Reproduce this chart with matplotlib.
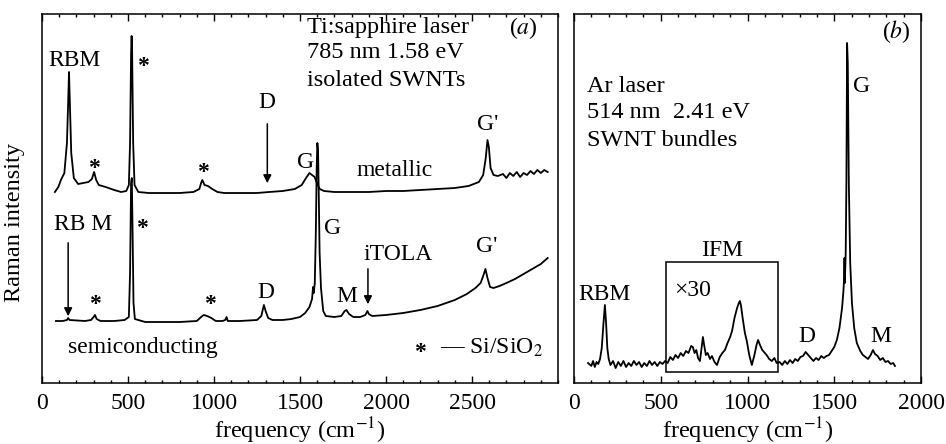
import numpy as np
import matplotlib
matplotlib.use('Agg')
import matplotlib.pyplot as plt
from matplotlib.patches import Rectangle
from matplotlib.ticker import MultipleLocator, FixedLocator, NullLocator

plt.rcParams['font.family'] = ['Liberation Serif', 'DejaVu Serif']
plt.rcParams['mathtext.fontset'] = 'stix'

# ---- panel (a): isolated SWNTs, 785 nm ----
met_freq = [75, 95, 110, 130, 145, 152, 157, 162, 170, 185, 210, 240, 270, 290, 303, 315,
            330, 370, 420, 460, 490, 505, 512, 518, 521, 524, 530, 538, 560, 620, 700, 800,
            880, 915, 925, 932, 945, 965, 990, 1020, 1060, 1150, 1250, 1320, 1400, 1470,
            1510, 1535, 1555, 1570, 1585, 1598, 1615, 1640, 1700, 1800, 1900, 2000, 2100,
            2200, 2300, 2400, 2480, 2540, 2565, 2580, 2590, 2598, 2608, 2625, 2650, 2680,
            2700, 2720, 2740, 2760, 2780, 2800, 2820, 2840, 2860, 2880, 2900, 2920, 2940]
met_int = [191, 196, 203, 210, 240, 280, 311, 280, 230, 205, 199, 200, 201, 204, 211, 203,
           198, 196, 193, 191, 192, 198, 240, 330, 347, 330, 240, 198, 191, 190, 190, 190,
           191, 194, 200, 203, 198, 197, 194, 191, 190, 190, 190, 191, 192, 194,
           198, 205, 210, 208, 206, 200, 194, 192, 191, 191, 191, 192, 192,
           193, 194, 195, 197, 201, 208, 225, 243, 236, 215, 208, 207, 209,
           205, 210, 207, 211, 206, 210, 208, 212, 209, 213, 210, 213, 211]

sem_freq = [81, 120, 145, 152, 160, 250, 285, 300, 308, 318, 340, 420, 480, 505, 512, 518,
            522, 526, 532, 540, 600, 700, 800, 900, 925, 940, 960, 985, 1010, 1050, 1065,
            1073, 1080, 1150, 1250, 1275, 1290, 1300, 1315, 1340, 1400, 1450, 1500, 1530,
            1555, 1570, 1576, 1580, 1586, 1592, 1597, 1601, 1605, 1609, 1614, 1622, 1635,
            1650, 1700, 1740, 1760, 1770, 1785, 1810, 1850, 1880, 1892, 1900, 1920, 2000,
            2100, 2200, 2300, 2400, 2470, 2520, 2550, 2565, 2578, 2590, 2605, 2625, 2660,
            2700, 2750, 2800, 2850, 2900, 2940]
sem_int = [62, 62, 63, 65, 63, 62, 63, 66, 68, 64, 62, 62, 63, 66, 110, 200,
           205, 160, 80, 64, 61, 61, 61, 62, 66, 68, 67, 65, 62, 62, 63,
           66, 62, 62, 63, 67, 78, 72, 65, 63, 63, 64, 66, 70,
           76, 84, 96, 90, 100, 150, 215, 240, 232, 190, 130, 95, 72,
           67, 66, 67, 72, 73, 69, 66, 66, 68, 72, 69, 67, 68,
           70, 73, 77, 83, 89, 95, 100, 107, 114, 105, 96, 95, 97,
           100, 104, 109, 114, 119, 125]

# ---- panel (b): SWNT bundles, 514 nm ----
bun_freq = [81, 100, 110, 120, 130, 140, 150, 160, 170, 178, 185, 192, 200, 210, 225, 240,
            255, 270, 285, 300, 315, 330, 345, 360, 375, 390, 405, 420, 435, 450, 465, 480,
            495, 510, 525, 540, 555, 570, 585, 600, 615, 630, 645, 660, 675, 685, 695, 705,
            715, 726, 735, 743, 750, 760, 770, 784, 795, 810, 824, 840, 855, 870, 885, 900,
            911, 925, 940, 950, 956, 962, 972, 985, 996, 1010, 1025, 1040, 1052, 1061, 1072,
            1085, 1100, 1110, 1125, 1140, 1155, 1168, 1185, 1200, 1215, 1230, 1245, 1260,
            1275, 1290, 1305, 1320, 1335, 1350, 1365, 1380, 1395, 1410, 1425, 1440, 1455,
            1470, 1485, 1500, 1515, 1530, 1545, 1553, 1557, 1559, 1561, 1566, 1570, 1574,
            1578, 1584, 1592, 1602, 1615, 1630, 1650, 1665, 1680, 1695, 1710, 1723, 1735,
            1750, 1765, 1780, 1795, 1810, 1825, 1840, 1850]
bun_int = [20, 17, 22, 16, 21, 19, 24, 35, 60, 78, 60, 35, 24, 18, 22, 15,
           21, 17, 22, 16, 20, 17, 22, 18, 21, 16, 20, 17, 22, 18, 21, 17,
           21, 19, 22, 20, 26, 23, 28, 25, 30, 27, 32, 30, 37, 36, 30, 33,
           25, 22, 35, 46, 38, 28, 30, 24, 27, 21, 18, 26, 30, 33, 40, 46,
           52, 65, 75, 80, 82, 78, 65, 50, 42, 28, 18, 28, 38, 43, 38,
           33, 30, 28, 24, 22, 25, 20, 21, 18, 22, 19, 23, 20,
           24, 22, 26, 27, 31, 28, 25, 22, 25, 23, 27, 25, 27,
           28, 32, 36, 43, 55, 75, 92, 105, 125, 100, 130, 200, 340,
           320, 200, 120, 80, 55, 40, 32, 28, 26, 24, 28, 33, 29,
           27, 23, 25, 21, 22, 19, 20, 17]

fig = plt.figure(figsize=(9.46, 4.44), dpi=100)
ax1 = fig.add_axes([42 / 946, 61 / 444, 516 / 946, 369 / 444])
ax2 = fig.add_axes([574 / 946, 61 / 444, 347 / 946, 369 / 444])

FS = 17
for ax, xmax in ((ax1, 3000), (ax2, 2000)):
    ax.set_xlim(0, xmax)
    ax.set_ylim(0, 369)
    ax.xaxis.set_major_locator(FixedLocator(list(range(0, 2001 if xmax == 2000 else 2501, 500))))
    ax.xaxis.set_minor_locator(MultipleLocator(100))
    ax.yaxis.set_major_locator(NullLocator())
    ax.tick_params(axis='x', which='both', direction='in', top=True, labelsize=17, pad=7)
    ax.tick_params(axis='x', which='major', length=5, width=1)
    ax.tick_params(axis='x', which='minor', length=2.5, width=1)
    for s in ax.spines.values():
        s.set_linewidth(1.1)
    ax.set_xlabel('frequency (cm$^{-1}$)', fontsize=17.5, labelpad=1)

# panel (a)
ax1.plot(met_freq, met_int, color='black', lw=1.3)
ax1.plot(sem_freq, sem_int, color='black', lw=1.3)

ax1.text(1540, 355, 'Ti:sapphire laser', fontsize=17.5, va='center')
ax1.text(1540, 330, '785 nm 1.58 eV', fontsize=17.5, va='center')
ax1.text(1540, 303, 'isolated SWNTs', fontsize=17.5, va='center')
ax1.text(2797, 355, '($a$)', fontsize=FS, ha='center', va='center')

ax1.text(186, 323, 'RBM', fontsize=FS, ha='center', va='center')
ax1.text(587, 316, '*', fontsize=FS, fontweight='bold', ha='center', va='center')
ax1.text(303, 215, '*', fontsize=FS, fontweight='bold', ha='center', va='center')
ax1.text(938, 211, '*', fontsize=FS, fontweight='bold', ha='center', va='center')
ax1.text(1310, 281, 'D', fontsize=FS, ha='center', va='center')
ax1.annotate('', xy=(1310, 197), xytext=(1310, 262),
             arrowprops=dict(arrowstyle='-|>', color='black', lw=1.1, mutation_scale=12))
ax1.text(1535, 221, 'G', fontsize=FS, ha='center', va='center')
ax1.text(2593, 258, "G'", fontsize=FS, ha='center', va='center')
ax1.text(2052, 213, 'metallic', fontsize=FS, ha='center', va='center')

ax1.text(240, 158, 'RB M', fontsize=FS, ha='center', va='center')
ax1.annotate('', xy=(152, 64), xytext=(152, 143),
             arrowprops=dict(arrowstyle='-|>', color='black', lw=1.1, mutation_scale=12))
ax1.text(581, 155, '*', fontsize=FS, fontweight='bold', ha='center', va='center')
ax1.text(308, 78, '*', fontsize=FS, fontweight='bold', ha='center', va='center')
ax1.text(977, 78, '*', fontsize=FS, fontweight='bold', ha='center', va='center')
ax1.text(1302, 91, 'D', fontsize=FS, ha='center', va='center')
ax1.text(1692, 155, 'G', fontsize=FS, ha='center', va='center')
ax1.text(1773, 86, 'M', fontsize=FS, ha='center', va='center')
ax1.text(2070, 128, 'iTOLA', fontsize=FS, ha='center', va='center')
ax1.annotate('', xy=(1895, 76), xytext=(1895, 117),
             arrowprops=dict(arrowstyle='-|>', color='black', lw=1.1, mutation_scale=12))
ax1.text(2587, 136, "G'", fontsize=FS, ha='center', va='center')
ax1.text(585, 36, 'semiconducting', fontsize=FS, ha='center', va='center')
ax1.text(2198, 30, '*', fontsize=FS, fontweight='bold', ha='center', va='center')
ax1.text(2915, 35, '— Si/SiO$_2$', fontsize=FS, ha='right', va='center')

# panel (b)
ax2.plot(bun_freq, bun_int, color='black', lw=1.3)
ax2.add_patch(Rectangle((531, 11), 642, 110, fill=False, lw=1.1, edgecolor='black'))
ax2.text(75, 296, 'Ar laser', fontsize=17.5, va='center')
ax2.text(75, 270, '514 nm  2.41 eV', fontsize=17.5, va='center')
ax2.text(75, 243, 'SWNT bundles', fontsize=17.5, va='center')
ax2.text(1855, 351, '($b$)', fontsize=FS, ha='center', va='center')
ax2.text(173, 88, 'RBM', fontsize=FS, ha='center', va='center')
ax2.text(852, 133, 'IFM', fontsize=FS, ha='center', va='center')
ax2.text(575, 93, '×30', fontsize=FS, ha='left', va='center')
ax2.text(1343, 46, 'D', fontsize=FS, ha='center', va='center')
ax2.text(1767, 46, 'M', fontsize=FS, ha='center', va='center')
ax2.text(1660, 296, 'G', fontsize=FS, ha='center', va='center')

fig.text(15 / 946, 1 - 222 / 444, 'Raman intensity', fontsize=17.5, rotation=90,
         ha='center', va='center')

fig.savefig('out.png', dpi=100)
